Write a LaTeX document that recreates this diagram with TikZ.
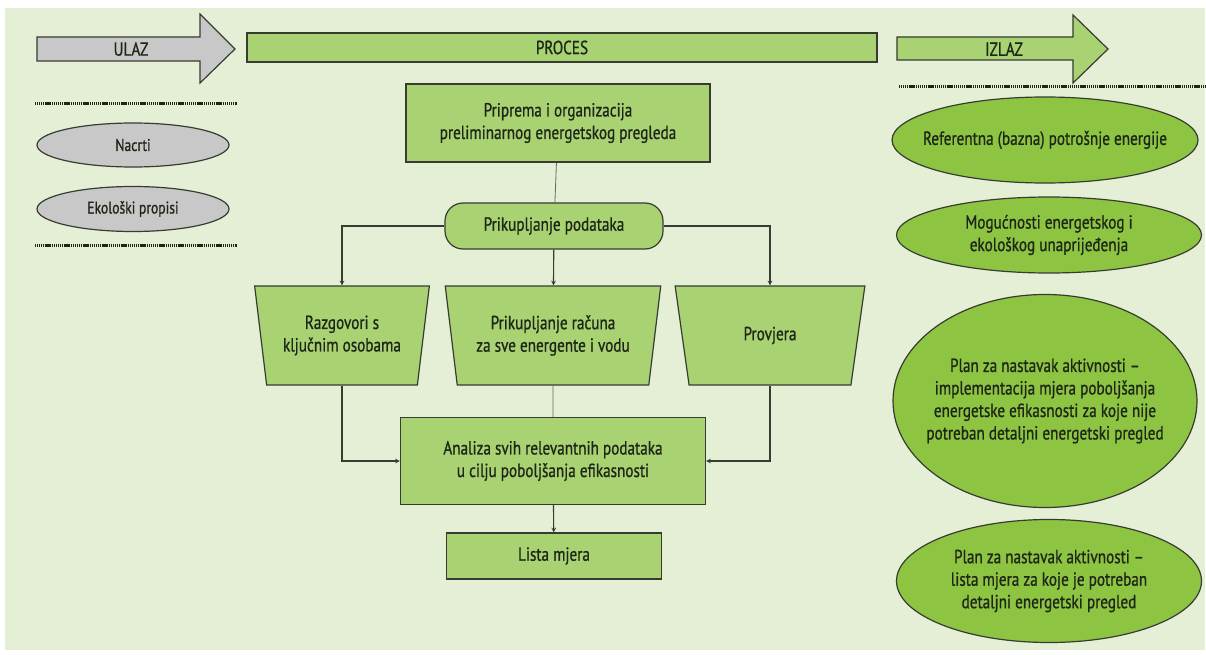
\documentclass[tikz,border=0pt]{standalone}
\usepackage{fontspec}
\setmainfont{PT Sans}[FakeStretch=0.8, FakeBold=0.8]
\usetikzlibrary{shapes.geometric}
\definecolor{bgcol}{RGB}{228,239,214}
\definecolor{boxgreen}{RGB}{169,210,114}
\definecolor{ellgreen}{RGB}{141,196,66}
\definecolor{graycol}{RGB}{200,200,200}
\definecolor{linecol}{RGB}{55,60,50}
\definecolor{textcol}{RGB}{30,38,24}
\newcommand\txtsize{\fontsize{19}{22.5}\selectfont}
\newcommand\smallsize{\fontsize{17}{20}\selectfont}
\tikzset{
	boxstyle/.style={rectangle, draw=linecol, fill=boxgreen, line width=1.2pt, align=center, text=textcol, font=\txtsize},
	trapstyle/.style={trapezium, trapezium angle=78, trapezium stretches=true, shape border rotate=180, draw=linecol, fill=boxgreen, line width=1.2pt, align=center, text=textcol, font=\txtsize},
	ellgray/.style={ellipse, draw=linecol, fill=graycol, line width=1.2pt, align=center, text=textcol, font=\smallsize},
	ellgreen/.style={ellipse, draw=linecol, fill=ellgreen, line width=1.2pt, align=center, text=textcol, font=\txtsize, inner xsep=-25pt, inner ysep=0pt},
	headtext/.style={text=textcol, font=\txtsize},
	arrowline/.style={draw=linecol, line width=1.2pt, line join=miter},
	dotline/.style={line width=3pt, dash pattern=on 1.2pt off 0.7pt, draw=textcol},
	conn/.style={draw=linecol, line width=1.1pt},
	thinconn/.style={draw=gray!80!black, line width=0.8pt}
}

\begin{document}
\begin{tikzpicture}[x=1pt, y=-1pt]
\useasboundingbox (0,0) rectangle (1206,655);
\fill[bgcol] (5,8) rectangle (1205,650);

% headers
\draw[arrowline, fill=graycol] (37,37) -- (200,37) -- (200,14) -- (235,49) -- (200,83) -- (200,61) -- (37,61) -- cycle;
\node[headtext] (ulaz) at (131,49) {ULAZ};
\node[boxstyle, minimum width=630, minimum height=29, inner sep=1pt] (proces) at (562,47.5) {PROCES};
\draw[arrowline, fill=boxgreen] (897,37) -- (1073,37) -- (1073,15) -- (1108,49) -- (1073,83) -- (1073,60) -- (897,60) -- cycle;
\node[headtext] (izlaz) at (1004,49) {IZLAZ};

\draw[dotline] (35,104) -- (237,104);
\draw[dotline] (35,245) -- (237,245);
\draw[dotline] (899,87) -- (1205,87);

% inputs
\node[ellgray, minimum width=192, minimum height=44] (nacrti) at (133,145) {Nacrti};
\node[ellgray, minimum width=192, minimum height=45] (eko) at (133,209) {Ekološki propisi};

% process
\node[boxstyle, minimum width=304, minimum height=78] (priprema) at (558,123) {Priprema i organizacija\\preliminarnog energetskog pregleda};
\node[boxstyle, rounded corners=18, minimum width=218, minimum height=46] (podaci) at (554,226) {Prikupljanje podataka};
\node[trapstyle, minimum width=175, minimum height=99] (razg) at (342,335.5) {Razgovori s\\ključnim osobama};
\node[trapstyle, minimum width=216, minimum height=99] (racun) at (553,335.5) {Prikupljanje računa\\za sve energente i vodu};
\node[trapstyle, minimum width=190, minimum height=99] (provj) at (770,335.5) {Provjera};
\node[boxstyle, minimum width=305, minimum height=87] (analiza) at (553,461) {Analiza svih relevantnih podataka\\u cilju poboljšanja efikasnosti};
\node[boxstyle, minimum width=215, minimum height=46] (lista) at (554,556) {Lista mjera};

% outputs
\node[ellgreen, minimum width=306, minimum height=86] (ref) at (1045,140) {Referentna (bazna) potrošnje energije};
\node[ellgreen, minimum width=305, minimum height=76] (mog) at (1049,235) {Mogućnosti energetskog i\\ekološkog unaprijeđenja};
\node[ellgreen, minimum width=304, minimum height=213] (plan1) at (1045,401) {Plan za nastavak aktivnosti --\\implementacija mjera poboljšanja\\energetske efikasnosti za koje nije\\potreban detaljni energetski pregled};
\node[ellgreen, minimum width=305, minimum height=123] (plan2) at (1049,581) {Plan za nastavak aktivnosti --\\lista mjera za koje je potreban\\detaljni energetski pregled};

\draw[thinconn] (priprema) -- (podaci);
\draw[conn, -stealth] (podaci.west) -| (razg.north);
\draw[conn, -stealth] (podaci) -- (racun);
\draw[conn, -stealth] (podaci.east) -| (provj.north);
\draw[conn, -stealth] (razg.south) |- (analiza.west);
\draw[thinconn] (racun) -- (analiza);
\draw[conn, -stealth] (provj.south) |- (analiza.east);
\draw[conn, -stealth] (analiza) -- (lista);
\end{tikzpicture}
\end{document}
